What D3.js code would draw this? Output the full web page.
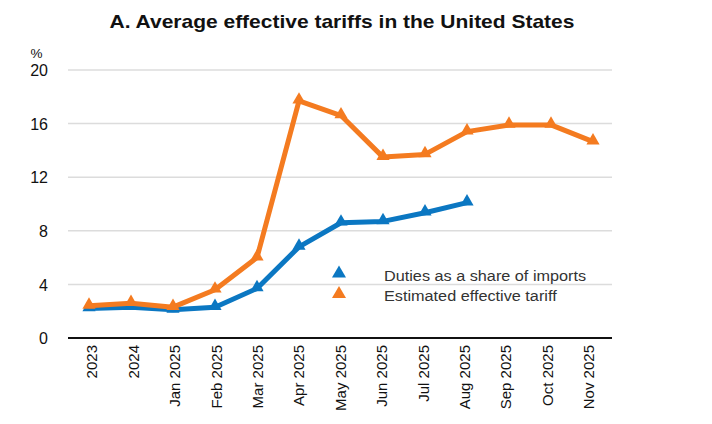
<!DOCTYPE html>
<html>
<head>
<meta charset="utf-8">
<script src="https://cdn.jsdelivr.net/npm/d3@7/dist/d3.min.js"></script>
<style>
  html, body { margin: 0; padding: 0; background: #fff; }
  svg { display: block; font-family: "Liberation Sans", Arial, sans-serif; }
</style>
</head>
<body>
<svg id="chart" width="712" height="424"></svg>
<script>
// Periods shown on the x axis
const categories = ["2023", "2024", "Jan 2025", "Feb 2025", "Mar 2025", "Apr 2025", "May 2025",
  "Jun 2025", "Jul 2025", "Aug 2025", "Sep 2025", "Oct 2025", "Nov 2025"];

// Customs duties collected divided by import value, %
const dutiesShare = [2.2, 2.3, 2.1, 2.3, 3.7, 6.8, 8.6, 8.7, 9.35, 10.1, null, null, null];

// Estimated statutory effective tariff rate, %
const estimatedTariff = [2.4, 2.6, 2.3, 3.6, 6.0, 17.7, 16.6, 13.5, 13.7, 15.4, 15.9, 15.9, 14.65];

const yTicks = [0, 4, 8, 12, 16, 20];

const series = [
  { name: "Duties as a share of imports", values: dutiesShare, color: "#0b77c2" },
  { name: "Estimated effective tariff", values: estimatedTariff, color: "#f47b20" }
];

const svg = d3.select("#chart");
const H = 424;
const plotLeft = 68, plotRight = 612, plotTop = 70, plotBottom = 338;

const x = d3.scaleBand().domain(categories).range([plotLeft, 614]);
// slightly narrower band for the rotated tick labels
const xLabels = d3.scaleBand().domain(categories).range([71.5, 609.5]);
const y = d3.scaleLinear().domain([0, 20]).range([plotBottom, plotTop]);

// stretch a text element horizontally about its anchor point
function widen(sel, factor, anchorX) {
  sel.attr("transform", `translate(${anchorX},0) scale(${factor},1) translate(${-anchorX},0)`);
}

// Title
const title = svg.append("text")
  .attr("x", 342).attr("y", 28)
  .attr("text-anchor", "middle")
  .attr("font-size", 17.5).attr("font-weight", "bold").attr("fill", "#111")
  .text("A. Average effective tariffs in the United States");
widen(title, 1.2, 342);

// Gridlines
svg.append("g")
  .selectAll("line")
  .data(yTicks.filter(d => d > 0))
  .join("line")
  .attr("x1", plotLeft).attr("x2", plotRight)
  .attr("y1", d => y(d)).attr("y2", d => y(d))
  .attr("stroke", "#dcdcdc").attr("stroke-width", 1.5);

// Y axis labels
const yAxis = d3.axisLeft(y).tickValues(yTicks).tickSize(0).tickPadding(0);
svg.append("g")
  .attr("transform", `translate(48,0)`)
  .call(yAxis)
  .call(g => g.select(".domain").remove())
  .call(g => g.selectAll("text")
    .attr("font-size", 16).attr("fill", "#111")
    .attr("dy", "0.36em")
    .attr("font-family", "'Liberation Sans', Arial, sans-serif"));

svg.append("text")
  .attr("x", 36.5).attr("y", 58)
  .attr("text-anchor", "middle")
  .attr("font-size", 13.5).attr("fill", "#111")
  .text("%");

// X axis baseline
svg.append("line")
  .attr("x1", plotLeft).attr("x2", plotRight)
  .attr("y1", y(0)).attr("y2", y(0))
  .attr("stroke", "#111").attr("stroke-width", 2);

// X axis tick labels, rotated
const xAxis = d3.axisBottom(xLabels).tickSize(0).tickPadding(0);
svg.append("g")
  .attr("transform", `translate(0,${y(0)})`)
  .call(xAxis)
  .call(g => g.select(".domain").remove())
  .call(g => g.selectAll("text")
    .attr("font-size", 15).attr("fill", "#111")
    .attr("font-family", "'Liberation Sans', Arial, sans-serif")
    .attr("text-anchor", "end")
    .attr("dy", "0.35em")
    .attr("transform", "translate(0,7) rotate(-90)"));

// Lines with triangle markers
const line = d3.line()
  .defined(d => d != null)
  .x((d, i) => x(categories[i]) + x.bandwidth() / 2)
  .y(d => y(d));

const tri = d3.symbol().type(d3.symbolTriangle).size(75);

series.forEach(s => {
  svg.append("path")
    .datum(s.values)
    .attr("fill", "none")
    .attr("stroke", s.color)
    .attr("stroke-width", 5)
    .attr("stroke-linejoin", "round")
    .attr("d", line);

  svg.append("g")
    .selectAll("path")
    .data(s.values.map((v, i) => ({ v, i })).filter(d => d.v != null))
    .join("path")
    .attr("d", tri)
    .attr("fill", s.color)
    .attr("transform", d => `translate(${x(categories[d.i]) + x.bandwidth() / 2},${y(d.v) - 1})`);
});

// Legend
const legendRows = [273.5, 294];
const legendText = [281, 301.5];
series.forEach((s, i) => {
  svg.append("path")
    .attr("d", d3.symbol().type(d3.symbolTriangle).size(85))
    .attr("fill", s.color)
    .attr("transform", `translate(339,${legendRows[i]})`);
  const t = svg.append("text")
    .attr("x", 384).attr("y", legendText[i])
    .attr("font-size", 14).attr("fill", "#333")
    .text(s.name);
  widen(t, 1.16, 384);
});
</script>
</body>
</html>
